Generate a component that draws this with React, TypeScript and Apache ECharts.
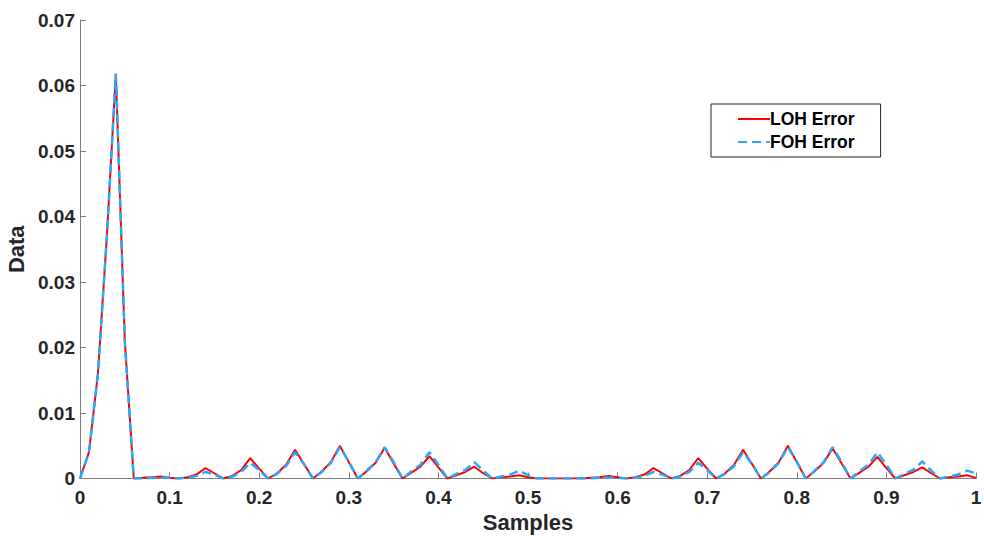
import React, { useEffect, useRef } from "react";
import * as echarts from "echarts";

const samples = [
  0, 0.01, 0.02, 0.03, 0.04, 0.05, 0.06, 0.07, 0.08, 0.09,
  0.1, 0.11, 0.12, 0.13, 0.14, 0.15, 0.16, 0.17, 0.18, 0.19,
  0.2, 0.21, 0.22, 0.23, 0.24, 0.25, 0.26, 0.27, 0.28, 0.29,
  0.3, 0.31, 0.32, 0.33, 0.34, 0.35, 0.36, 0.37, 0.38, 0.39,
  0.4, 0.41, 0.42, 0.43, 0.44, 0.45, 0.46, 0.47, 0.48, 0.49,
  0.5, 0.51, 0.52, 0.53, 0.54, 0.55, 0.56, 0.57, 0.58, 0.59,
  0.6, 0.61, 0.62, 0.63, 0.64, 0.65, 0.66, 0.67, 0.68, 0.69,
  0.7, 0.71, 0.72, 0.73, 0.74, 0.75, 0.76, 0.77, 0.78, 0.79,
  0.8, 0.81, 0.82, 0.83, 0.84, 0.85, 0.86, 0.87, 0.88, 0.89,
  0.9, 0.91, 0.92, 0.93, 0.94, 0.95, 0.96, 0.97, 0.98, 0.99,
  1,
];

const lohError = [
  0, 0.004, 0.016, 0.037, 0.0618, 0.021, 0, 0.0001, 0.0002, 0.0003,
  0.0001, 0, 0.0002, 0.0006, 0.0016, 0.0008, 0, 0.0004, 0.0013, 0.0031,
  0.0015, 0, 0.0008, 0.0021, 0.0044, 0.0022, 0, 0.0011, 0.0025, 0.005,
  0.0025, 0, 0.0011, 0.0024, 0.0047, 0.0023, 0, 0.0009, 0.0018, 0.0034,
  0.0017, 0, 0.0005, 0.001, 0.0018, 0.0008, 0, 0.0002, 0.0003, 0.0005,
  0.0002, 0, 0, 0, 0, 0, 0, 0.0001, 0.0002, 0.0004,
  0.0002, 0, 0.0002, 0.0006, 0.0016, 0.0008, 0, 0.0004, 0.0013, 0.0031,
  0.0015, 0, 0.0008, 0.0021, 0.0044, 0.0022, 0, 0.0011, 0.0025, 0.005,
  0.0025, 0, 0.0011, 0.0024, 0.0046, 0.0023, 0, 0.0009, 0.0018, 0.0033,
  0.0016, 0, 0.0005, 0.001, 0.0017, 0.0008, 0, 0.0002, 0.0003, 0.0005,
  0.0001,
];

const fohError = [
  0, 0.004, 0.016, 0.037, 0.0618, 0.021, 0, 0, 0.0001, 0.0001,
  0.0001, 0, 0.0001, 0.0004, 0.001, 0.0006, 0, 0.0003, 0.001, 0.0024,
  0.0013, 0, 0.0007, 0.0019, 0.004, 0.0022, 0, 0.001, 0.0024, 0.0048,
  0.0026, 0, 0.0012, 0.0025, 0.0048, 0.0025, 0, 0.0011, 0.0021, 0.004,
  0.0021, 0, 0.0007, 0.0013, 0.0025, 0.0012, 0, 0.0003, 0.0006, 0.0012,
  0.0005, 0, 0, 0, 0, 0, 0, 0, 0.0001, 0.0001,
  0.0001, 0, 0.0001, 0.0004, 0.001, 0.0006, 0, 0.0003, 0.001, 0.0024,
  0.0013, 0, 0.0007, 0.0019, 0.004, 0.0022, 0, 0.001, 0.0024, 0.0048,
  0.0026, 0, 0.0012, 0.0025, 0.0048, 0.0025, 0, 0.0011, 0.0021, 0.004,
  0.0021, 0, 0.0007, 0.0013, 0.0026, 0.0012, 0, 0.0003, 0.0006, 0.0012,
  0.0008,
];

const seriesNames = ["LOH Error", "FOH Error"];

const FONT = "'Liberation Sans', Arial, Helvetica, sans-serif";
const TEXT = "#262626";
const AXIS = "#7f7f7f";

export default function App() {
  const ref = useRef<HTMLDivElement>(null);

  useEffect(() => {
    if (!ref.current) return;
    const chart = echarts.init(ref.current, null, { renderer: "svg" });
    const pair = (ys: number[]) => samples.map((x, i) => [x, ys[i]]);
    chart.setOption({
      animation: false,
      backgroundColor: "#ffffff",
      grid: { left: 80, right: 8, top: 20, bottom: 57.5, containLabel: false, outerBoundsMode: "none" },
      legend: {
        orient: "vertical",
        left: 711,
        top: 104,
        padding: [6, 26, 6, 26],
        itemGap: 5,
        itemWidth: 32,
        itemHeight: 12,
        borderColor: "#262626",
        borderWidth: 1,
        backgroundColor: "#ffffff",
        itemStyle: { opacity: 0 },
        textStyle: { fontFamily: FONT, fontWeight: "bold", fontSize: 17.5, color: "#000", padding: [0, 0, 0, -5] },
        data: seriesNames,
      },
      xAxis: {
        type: "value",
        min: 0,
        max: 1,
        interval: 0.1,
        name: "Samples",
        nameLocation: "middle",
        nameGap: 33,
        nameTextStyle: { fontFamily: FONT, fontWeight: "bold", fontSize: 22, color: TEXT },
        axisLine: { show: true, lineStyle: { color: AXIS, width: 1 } },
        axisTick: { show: true, inside: true, length: 6, lineStyle: { color: AXIS } },
        axisLabel: { fontFamily: FONT, fontWeight: "bold", fontSize: 19, color: TEXT, margin: 9 },
        splitLine: { show: false },
      },
      yAxis: {
        type: "value",
        min: 0,
        max: 0.07,
        interval: 0.01,
        name: "Data",
        nameLocation: "middle",
        nameGap: 53,
        nameRotate: 90,
        nameTextStyle: { fontFamily: FONT, fontWeight: "bold", fontSize: 22, color: TEXT },
        axisLine: { show: true, lineStyle: { color: AXIS, width: 1 } },
        axisTick: { show: true, inside: true, length: 6, lineStyle: { color: AXIS } },
        axisLabel: { fontFamily: FONT, fontWeight: "bold", fontSize: 19, color: TEXT, margin: 5 },
        splitLine: { show: false },
      },
      series: [
        {
          name: seriesNames[0],
          type: "line",
          data: pair(lohError),
          symbol: "none",
          showSymbol: false,
          lineStyle: { color: "#ff0000", width: 2 },
          itemStyle: { color: "#ff0000" },
          z: 2,
        },
        {
          name: seriesNames[1],
          type: "line",
          data: pair(fohError),
          symbol: "none",
          showSymbol: false,
          lineStyle: { color: "#2aa6ff", width: 2.5, type: [9, 5] },
          itemStyle: { color: "#2aa6ff" },
          z: 3,
        },
      ],
    });
    return () => chart.dispose();
  }, []);

  return (
    <div
      ref={ref}
      style={{ position: "fixed", left: 0, top: 0, width: 984, height: 536, background: "#fff" }}
    />
  );
}
